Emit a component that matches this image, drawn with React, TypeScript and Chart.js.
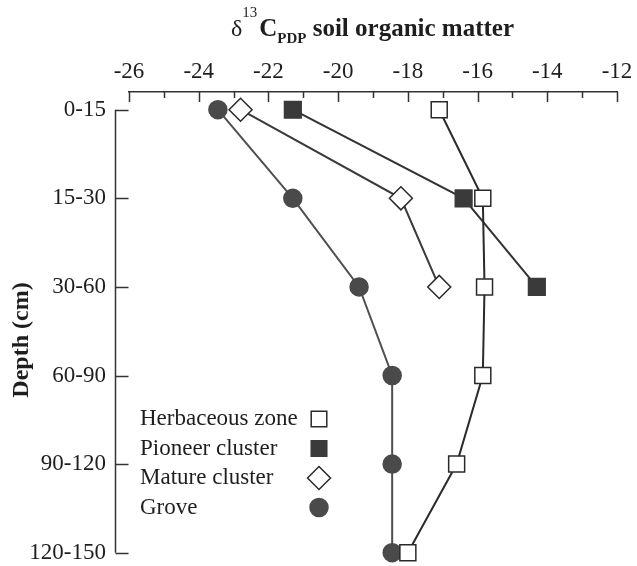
import React, { useEffect, useRef } from "react";
import { Chart, registerables } from "chart.js";

Chart.register(...registerables);

// ---- data ----
const depthLabels = ["0-15", "15-30", "30-60", "60-90", "90-120", "120-150"];
const herbaceousZone = [-17.1, -15.85, -15.8, -15.85, -16.6, -18.0];
const pioneerCluster = [-21.3, -16.4, -14.3];
const matureCluster = [-22.8, -18.2, -17.1];
const grove = [-23.45, -21.3, -19.4, -18.45, -18.45, -18.45];
const seriesNames = ["Herbaceous zone", "Pioneer cluster", "Mature cluster", "Grove"];
const xTickValues = [-26, -24, -22, -20, -18, -16, -14, -12];
const xMinorStep = 1;

const SERIF = '"Liberation Serif", "Times New Roman", serif';
const INK = "#1e1e1e";

const toPoints = (vals: number[]) => vals.map((v, i) => ({ x: v, y: i }));

function drawMarker(ctx: CanvasRenderingContext2D, style: string, x: number, y: number, r: number, fill: string, stroke: string, lw: number) {
  ctx.save();
  ctx.beginPath();
  if (style === "rect") {
    const s = r * Math.SQRT1_2;
    ctx.rect(x - s, y - s, 2 * s, 2 * s);
  } else if (style === "rectRot") {
    ctx.moveTo(x - r, y);
    ctx.lineTo(x, y - r);
    ctx.lineTo(x + r, y);
    ctx.lineTo(x, y + r);
    ctx.closePath();
  } else {
    ctx.arc(x, y, r, 0, Math.PI * 2);
  }
  ctx.fillStyle = fill;
  ctx.fill();
  ctx.lineWidth = lw;
  ctx.strokeStyle = stroke;
  ctx.stroke();
  ctx.restore();
}

const decorPlugin = {
  id: "decor",
  afterDraw(chart: any) {
    const ctx: CanvasRenderingContext2D = chart.ctx;
    const xs = chart.scales.x;
    const ys = chart.scales.y;
    const area = chart.chartArea;
    ctx.save();
    ctx.strokeStyle = "#333";
    ctx.lineWidth = 1.5;
    // inward ticks on top axis
    const first = xTickValues[0];
    const last = xTickValues[xTickValues.length - 1];
    for (let v = first; v <= last + 1e-9; v += xMinorStep) {
      const px = Math.round(xs.getPixelForValue(v)) + 0.5;
      const major = xTickValues.includes(v);
      ctx.beginPath();
      ctx.moveTo(px, area.top);
      ctx.lineTo(px, area.top + (major ? 10 : 6));
      ctx.stroke();
    }
    // detached left axis
    const axX = Math.round(area.left - 14) + 0.5;
    const y0 = ys.getPixelForValue(0);
    const y1 = ys.getPixelForValue(depthLabels.length - 1);
    ctx.beginPath();
    ctx.moveTo(axX, y0);
    ctx.lineTo(axX, y1);
    ctx.stroke();
    depthLabels.forEach((_, i) => {
      const py = Math.round(ys.getPixelForValue(i)) + 0.5;
      ctx.beginPath();
      ctx.moveTo(axX, py);
      ctx.lineTo(axX + 13, py);
      ctx.stroke();
    });
    ctx.restore();

    // legend (text left, marker right)
    ctx.save();
    ctx.font = `23px ${SERIF}`;
    ctx.fillStyle = INK;
    ctx.textBaseline = "middle";
    ctx.textAlign = "left";
    chart.data.datasets.forEach((ds: any, i: number) => {
      const ly = 419 + i * 29.5;
      ctx.fillText(ds.label, 140, ly);
      drawMarker(ctx, ds.pointStyle, 319, ly, ds.pointStyle === "circle" ? 9 : ds.pointStyle === "rect" ? 11 : 11.5, ds.pointBackgroundColor, ds.pointBorderColor, 1.5);
    });
    ctx.restore();

    // top title: δ13C_PDP soil organic matter
    ctx.save();
    ctx.fillStyle = INK;
    ctx.textBaseline = "alphabetic";
    ctx.textAlign = "left";
    const parts = [
      { t: "\u03b4", f: `24px ${SERIF}`, dy: 0, gap: 0 },
      { t: "13", f: `15px ${SERIF}`, dy: -19, gap: 2 },
      { t: "C", f: `bold 25px ${SERIF}`, dy: 0, gap: 0 },
      { t: "PDP", f: `bold 15px ${SERIF}`, dy: 7, gap: 0 },
      { t: " soil organic matter", f: `bold 25px ${SERIF}`, dy: 0, gap: 0 },
    ];
    let total = 0;
    parts.forEach((p) => {
      ctx.font = p.f;
      total += ctx.measureText(p.t).width + p.gap;
    });
    let cx = 514 - total;
    const base = 36;
    parts.forEach((p) => {
      ctx.font = p.f;
      ctx.fillText(p.t, cx, base + p.dy);
      cx += ctx.measureText(p.t).width + p.gap;
    });
    ctx.restore();

    // y title
    ctx.save();
    ctx.translate(22, 340);
    ctx.rotate(-Math.PI / 2);
    ctx.font = `bold 24px ${SERIF}`;
    ctx.fillStyle = INK;
    ctx.textAlign = "center";
    ctx.textBaseline = "middle";
    ctx.fillText("Depth (cm)", 0, 0);
    ctx.restore();
  },
};

export default function App() {
  const ref = useRef<HTMLCanvasElement | null>(null);
  useEffect(() => {
    if (!ref.current) return;
    const common = { showLine: true, clip: false as any, pointBorderWidth: 1.5, borderWidth: 2 };
    const chart = new Chart(ref.current, {
      type: "scatter",
      data: {
        datasets: [
          {
            ...common,
            label: seriesNames[0],
            data: toPoints(herbaceousZone),
            pointStyle: "rect",
            pointRadius: 11.3,
            borderColor: "#2a2a2a",
            pointBackgroundColor: "#ffffff",
            pointBorderColor: "#2a2a2a",
          },
          {
            ...common,
            label: seriesNames[1],
            data: toPoints(pioneerCluster),
            pointStyle: "rect",
            pointRadius: 11.8,
            borderColor: "#333333",
            pointBackgroundColor: "#3a3a3a",
            pointBorderColor: "#3a3a3a",
          },
          {
            ...common,
            label: seriesNames[2],
            data: toPoints(matureCluster),
            pointStyle: "rectRot",
            pointRadius: 11.5,
            borderColor: "#3a3a3a",
            pointBackgroundColor: "#ffffff",
            pointBorderColor: "#2a2a2a",
          },
          {
            ...common,
            label: seriesNames[3],
            data: toPoints(grove),
            pointStyle: "circle",
            pointRadius: 9,
            borderColor: "#4f4f4f",
            pointBackgroundColor: "#4a4a4a",
            pointBorderColor: "#4a4a4a",
          },
        ] as any,
      },
      options: {
        responsive: false,
        animation: false,
        events: [],
        layout: { padding: { left: 0, top: 0, right: 20, bottom: 13 } },
        plugins: { legend: { display: false }, tooltip: { enabled: false }, title: { display: false } },
        scales: {
          x: {
            type: "linear",
            position: "top",
            min: xTickValues[0],
            max: xTickValues[xTickValues.length - 1],
            afterBuildTicks: (s: any) => {
              s.ticks = xTickValues.map((v) => ({ value: v }));
            },
            afterFit: (s: any) => {
              s.height = 92;
              s.paddingLeft = 0;
              s.paddingRight = 0;
            },
            ticks: {
              autoSkip: false,
              maxRotation: 0,
              padding: 6,
              color: INK,
              font: { family: SERIF, size: 23 },
              callback: (v: any) => String(v),
            },
            grid: { display: true, drawOnChartArea: false, drawTicks: false, color: "#333" },
            border: { display: true, color: "#333", width: 1.5 },
          },
          y: {
            type: "linear",
            reverse: true,
            min: -0.2,
            max: depthLabels.length - 1,
            afterBuildTicks: (s: any) => {
              s.ticks = depthLabels.map((_, i) => ({ value: i }));
            },
            afterFit: (s: any) => {
              s.width = 129;
              s.paddingTop = 0;
              s.paddingBottom = 0;
            },
            ticks: {
              autoSkip: false,
              padding: 23,
              color: INK,
              font: { family: SERIF, size: 23 },
              callback: (v: any) => depthLabels[v] ?? "",
            },
            grid: { display: false, drawTicks: false },
            border: { display: false },
          },
        },
      } as any,
      plugins: [decorPlugin],
    });
    return () => chart.destroy();
  }, []);
  return (
    <canvas
      ref={ref}
      width={637}
      height={566}
      style={{ position: "absolute", left: 0, top: 0, width: 637, height: 566 }}
    />
  );
}
